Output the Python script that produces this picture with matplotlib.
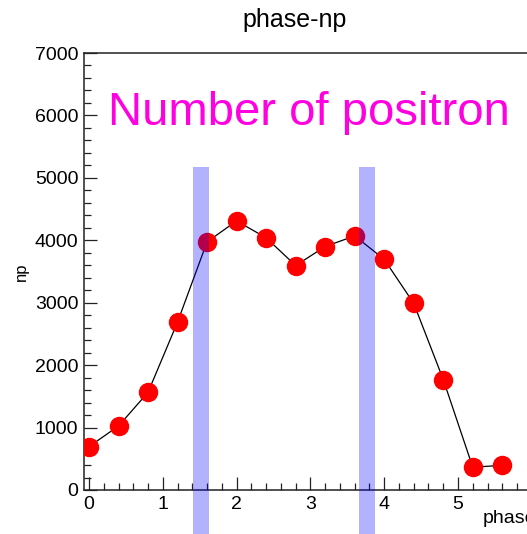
import matplotlib
matplotlib.use('Agg')
import matplotlib.pyplot as plt
from matplotlib.patches import Rectangle

# phase vs number of positrons
phase = [0.0, 0.4, 0.8, 1.2, 1.6, 2.0, 2.4, 2.8, 3.2, 3.6, 4.0, 4.4, 4.8, 5.2, 5.6]
npos = [695, 1025, 1565, 2690, 3975, 4310, 4040, 3595, 3900, 4070, 3695, 2990, 1770, 365, 395]

# highlighted phase windows
band_x = [1.52, 3.77]
band_width = 0.22
band_top = 5180

plt.rcParams['font.family'] = ['Liberation Sans', 'DejaVu Sans']

W, H = 527, 534
fig = plt.figure(figsize=(W / 100, H / 100), dpi=100)

# axes placed in pixel terms (right edge runs past the crop)
x0_px, x_unit = 89, 73.8
xmin, xmax = -0.068, 6.2
left_px = x0_px + xmin * x_unit
right_px = x0_px + xmax * x_unit
ax = fig.add_axes([left_px / W, 44 / H, (right_px - left_px) / W, 437 / H])

ax.plot(phase, npos, color='black', lw=0.9, marker='o', ms=13,
        mfc='red', mec='red', zorder=3)

for bx in band_x:
    ax.add_patch(Rectangle((bx - band_width / 2, -1500), band_width, band_top + 1500,
                           facecolor='blue', alpha=0.3, lw=0, zorder=4, clip_on=False))

ax.set_xlim(xmin, xmax)
ax.set_ylim(0, 7000)
ax.set_xticks(range(0, 7))
ax.set_xticks([i * 0.2 for i in range(31)], minor=True)
ax.set_yticks(range(0, 7001, 1000))
ax.set_yticks(range(0, 7001, 200), minor=True)

for s in ax.spines.values():
    s.set_linewidth(1.1)
    s.set_color('#222222')
ax.tick_params(which='both', direction='in', top=False, right=False, width=0.9,
               labelsize=14, color='#222222')
ax.tick_params(which='major', length=9.5)
ax.tick_params(which='minor', length=5)
ax.tick_params(axis='y', pad=4)
ax.tick_params(axis='x', pad=4)

ax.set_xlabel('phase', fontsize=14, ha='right')
ax.xaxis.set_label_coords((536 - left_px) / (right_px - left_px), -0.045)
ax.set_ylabel('np', fontsize=12)
ax.yaxis.set_label_coords(-0.118, 0.5)

ax.text(0.052, 0.835, 'Number of positron', transform=ax.transAxes,
        fontsize=34, color='#ff00e0', va='baseline', ha='left')

fig.text(295 / W, 1 - 27 / H, 'phase-np', fontsize=18, ha='center', va='baseline')

fig.savefig('out.png', dpi=100)
